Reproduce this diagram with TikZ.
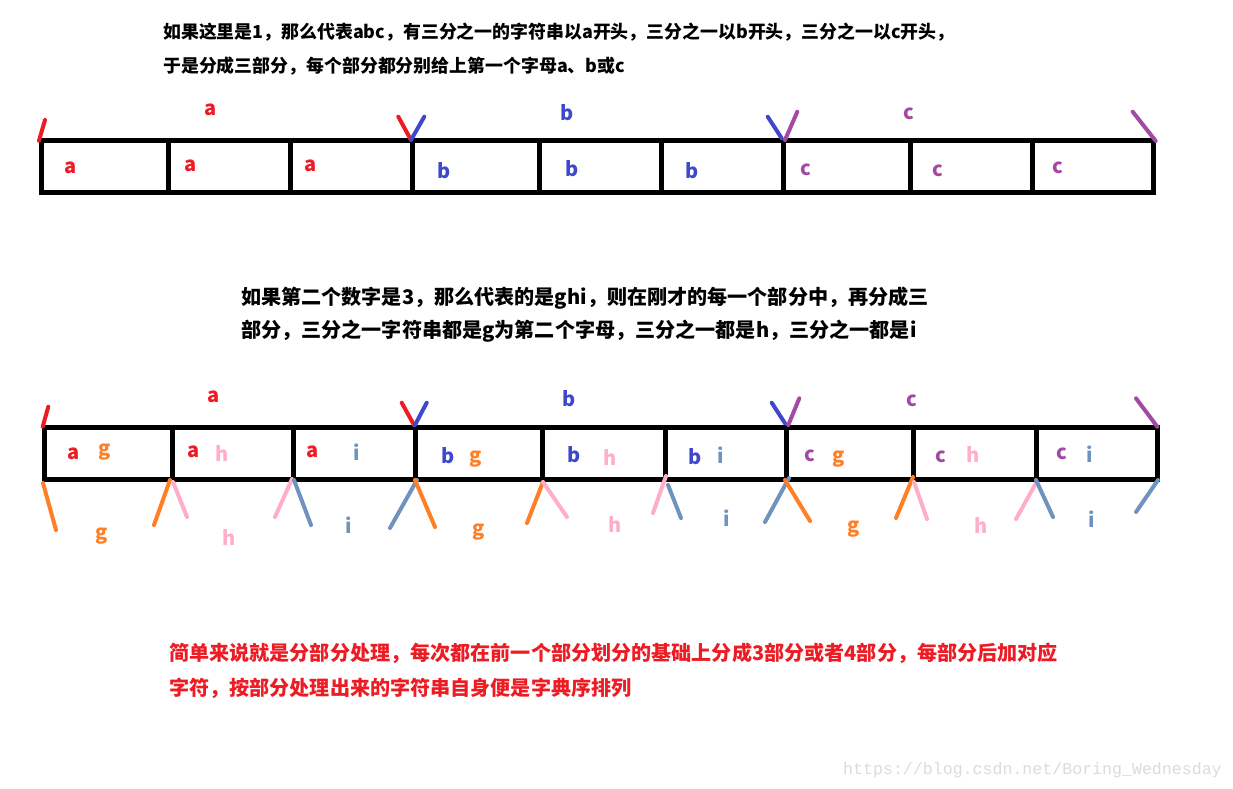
\documentclass[tikz,border=0pt]{standalone}
\usepackage{fontspec}
\newfontfamily\cjk{Noto Sans CJK SC}
\newfontfamily\wm{Liberation Mono}
\definecolor{pred}{HTML}{ED1C24}
\definecolor{pblue}{HTML}{3F48CC}
\definecolor{ppurple}{HTML}{A349A4}
\definecolor{porange}{HTML}{FF7F27}
\definecolor{ppink}{HTML}{FFAEC9}
\definecolor{psteel}{HTML}{7092BE}
\definecolor{wmgray}{HTML}{DCDCDC}
\begin{document}
\begin{tikzpicture}[x=1pt,y=-1pt,
  box/.style={line width=5pt},
  tick/.style={line width=4pt, line cap=round},
  lab/.style={font=\cjk\bfseries\fontsize{20}{20}\selectfont, anchor=base, inner sep=0pt},
  para/.style={font=\cjk\bfseries\fontsize{#1}{#1}\selectfont, anchor=base west, inner sep=0pt}]
\useasboundingbox (0,0) rectangle (1233,789);
\fill[white] (0,0) rectangle (1233,789);

% ---- texts
\node[para=17.9] (t1) at (163,38.5) {如果这里是1，那么代表abc，有三分之一的字符串以a开头，三分之一以b开头，三分之一以c开头，};
\node[para=17.9] (t2) at (163,73) {于是分成三部分，每个部分都分别给上第一个字母a、b或c};
\node[para=20.1] (t3) at (241,304.5) {如果第二个数字是3，那么代表的是ghi，则在刚才的每一个部分中，再分成三};
\node[para=20.1] (t4) at (241,337.5) {部分，三分之一字符串都是g为第二个字母，三分之一都是h，三分之一都是i};
\node[para=20.1, text=pred] (t5) at (169,660.5) {简单来说就是分部分处理，每次都在前一个部分划分的基础上分成3部分或者4部分，每部分后加对应};
\node[para=20.1, text=pred] (t6) at (169,695) {字符，按部分处理出来的字符串自身便是字典序排列};
\node[anchor=base west, inner sep=0pt, text=wmgray, font=\wm\fontsize{16.6}{17}\selectfont] (wm) at (843,774) {https://blog.csdn.net/Boring\_Wednesday};

% ---- row 1 box
\draw[box] (41.7,140.5) rectangle (1153.5,192.5);
\foreach \x in {168.3,290.8,412.5,539,661,783.3,910,1032}
  \draw[box] (\x,140.5) -- (\x,192.5);

% ---- row 1 ticks
\draw[tick,pred] (39,140.7) -- (45,120);
\draw[tick,pred] (398.3,116.7) -- (411,140);
\draw[tick,pblue] (411,140) -- (424.3,116.7);
\draw[tick,pblue] (767.7,116.7) -- (781.7,138.3);
\draw[tick,ppurple] (785,140) -- (797.3,111.7);
\draw[tick,ppurple] (1132.7,111.7) -- (1155.7,141);

% ---- row 1 labels
\foreach \x/\y/\t/\c/\n in {
  211/116/a/pred/ta, 567/121/b/pblue/tb, 909/120/c/ppurple/tc,
  71/173/a/pred/a1, 191/171/a/pred/a2, 311/171/a/pred/a3,
  444/178/b/pblue/b1, 572/176/b/pblue/b2, 692/178/b/pblue/b3,
  806/175/c/ppurple/c1, 938/176/c/ppurple/c2, 1058/173/c/ppurple/c3}
  \node[lab,text=\c] (r1\n) at (\x,\y) {\t};

% ---- row 2 box
\draw[box] (44,427) rectangle (1157,479);
\foreach \x in {172,293,415,542,665,786,913,1036}
  \draw[box] (\x,427) -- (\x,479);

% ---- row 2 top ticks
\draw[tick,pred] (42.7,426.7) -- (48.3,406.7);
\draw[tick,pred] (401.7,402.7) -- (414,425);
\draw[tick,pblue] (415,425) -- (426.7,402.7);
\draw[tick,pblue] (771.7,402.7) -- (785,423.3);
\draw[tick,ppurple] (788.3,425) -- (799.3,398.3);
\draw[tick,ppurple] (1136,398.3) -- (1157.3,426.7);

% ---- row 2 bottom ticks
\draw[tick,porange] (43,483) -- (56,530);
\draw[tick,porange] (154,525) -- (170,480);
\draw[tick,ppink] (173,482) -- (187,517);
\draw[tick,ppink] (275,517) -- (292,479);
\draw[tick,psteel] (294,480) -- (311,525);
\draw[tick,psteel] (390,528) -- (417,480);
\draw[tick,porange] (415,480) -- (435,527);
\draw[tick,porange] (527,523) -- (543,482);
\draw[tick,ppink] (543,482) -- (567,517);
\draw[tick,ppink] (653,513) -- (666,476);
\draw[tick,psteel] (668,485) -- (681,518);
\draw[tick,psteel] (765,522) -- (789,478);
\draw[tick,porange] (785,480) -- (810,521);
\draw[tick,porange] (896,518) -- (913,477);
\draw[tick,ppink] (914,482) -- (927,519);
\draw[tick,ppink] (1016,519) -- (1036,483);
\draw[tick,psteel] (1036,480) -- (1053,517);
\draw[tick,psteel] (1136,512) -- (1158,480);

% ---- row 2 labels
\foreach \x/\y/\t/\c/\n in {
  214/402/a/pred/ta, 569/406/b/pblue/tb, 912/406/c/ppurple/tc,
  74/459/a/pred/a1, 105/455/g/porange/g1,
  194/457/a/pred/a2, 222/461/h/ppink/h1,
  313/457/a/pred/a3, 357/460/i/psteel/i1,
  448/463/b/pblue/b1, 476/462/g/porange/g2,
  574/462/b/pblue/b2, 610/465/h/ppink/h2,
  695/464/b/pblue/b3, 721/463/i/psteel/i2,
  810/461/c/ppurple/c1, 839/462/g/porange/g3,
  941/462/c/ppurple/c2, 973/462/h/ppink/h3,
  1062/459/c/ppurple/c3, 1090/462/i/psteel/i3,
  102/539/g/porange/bg1, 229/545/h/ppink/bh1, 349/533/i/psteel/bi1,
  479/535/g/porange/bg2, 615/532/h/ppink/bh2, 727/526/i/psteel/bi2,
  854/532/g/porange/bg3, 981/533/h/ppink/bh3, 1092/527/i/psteel/bi3}
  \node[lab,text=\c] (r2\n) at (\x,\y) {\t};
\end{tikzpicture}
\end{document}
